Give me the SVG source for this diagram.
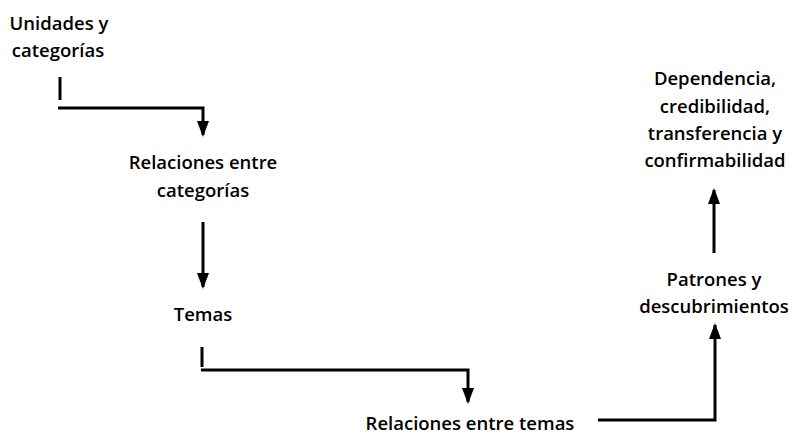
<svg xmlns="http://www.w3.org/2000/svg" width="794" height="435" viewBox="0 0 794 435">
<defs>
<style>
.t{font-family:"Open Sans","Liberation Sans",sans-serif;font-weight:600;font-size:18.5px;fill:#000;text-anchor:middle}
.c{fill:none;stroke:#000;stroke-width:3}
</style>
<marker id="ah" markerWidth="16" markerHeight="12" refX="14" refY="6" orient="auto" markerUnits="userSpaceOnUse" viewBox="0 0 16 12">
<path d="M0,0 L16,6 L0,12 Z" fill="#000"/>
</marker>
</defs>
<rect width="794" height="435" fill="#fff"/>
<g id="connectors">
<path class="c" d="M60,77 V100"/>
<path class="c" d="M58,108 H203 V135" marker-end="url(#ah)"/>
<path class="c" d="M203,222 V287" marker-end="url(#ah)"/>
<path class="c" d="M202,347 V367"/>
<path class="c" d="M201,370 H468 V402" marker-end="url(#ah)"/>
<path class="c" d="M598,420 H715 V325" marker-end="url(#ah)"/>
<path class="c" d="M714,253 V190" marker-end="url(#ah)"/>
</g>
<g id="n1"><text class="t" x="59" y="30">Unidades y</text><text class="t" x="58" y="57">categorías</text></g>
<g id="n2"><text class="t" x="203" y="169">Relaciones entre</text><text class="t" x="203" y="197">categorías</text></g>
<g id="n3"><text class="t" x="203" y="321">Temas</text></g>
<g id="n4"><text class="t" x="470" y="430">Relaciones entre temas</text></g>
<g id="n5"><text class="t" x="714" y="286">Patrones y</text><text class="t" x="714" y="313">descubrimientos</text></g>
<g id="n6"><text class="t" x="715" y="85">Dependencia,</text><text class="t" x="715" y="113">credibilidad,</text><text class="t" x="715" y="140">transferencia y</text><text class="t" x="715" y="167">confirmabilidad</text></g>
</svg>
